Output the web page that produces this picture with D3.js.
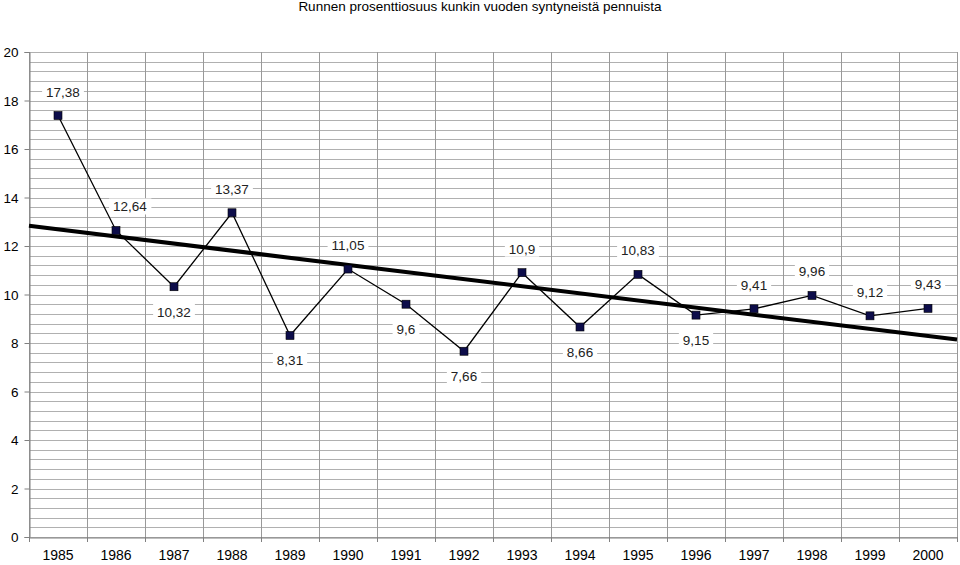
<!DOCTYPE html>
<html><head><meta charset="utf-8">
<script src="https://cdn.jsdelivr.net/npm/d3@7"></script>
<style>body{margin:0;background:#fff}svg{display:block}svg text{font-family:"Liberation Sans",Arial,sans-serif}</style>
</head><body><svg id="c" width="960" height="565"></svg>
<script>
const title = "Runnen prosenttiosuus kunkin vuoden syntyneistä pennuista";
const years = ["1985","1986","1987","1988","1989","1990","1991","1992","1993","1994","1995","1996","1997","1998","1999","2000"];
const values = [17.38,12.64,10.32,13.37,8.31,11.05,9.6,7.66,10.9,8.66,10.83,9.15,9.41,9.96,9.12,9.43];
const valueLabels = ["17,38","12,64","10,32","13,37","8,31","11,05","9,6","7,66","10,9","8,66","10,83","9,15","9,41","9,96","9,12","9,43"];
const labelSide = ["above","above","below","above","below","above","below","below","above","below","above","below","above","above","above","above"];
const yTicks = [0,2,4,6,8,10,12,14,16,18,20];

const svg = d3.select("#c");
const L=29,R=957,T=52,B=537;
const x = d3.scaleBand().domain(years).range([L,R]).padding(0);
const y = d3.scaleLinear().domain([0,20]).range([B,T]);
const cx = d => x(d)+x.bandwidth()/2;

svg.append("text").attr("x",480).attr("y",11).attr("text-anchor","middle")
  .style("font-size","13.5px").attr("fill","#000").text(title);

// horizontal gridlines every 0.4
const minor = d3.range(0,20.001,0.4);
svg.append("g").selectAll("line").data(minor).join("line")
  .attr("x1",L).attr("x2",R).attr("y1",d=>Math.round(y(d))+0.5).attr("y2",d=>Math.round(y(d))+0.5)
  .attr("stroke","#b0b0b0").attr("stroke-width",1);
// vertical gridlines at category boundaries
const bounds = years.map(d=>x(d)).concat([R]);
svg.append("g").selectAll("line").data(bounds).join("line")
  .attr("x1",d=>Math.round(d)+0.5).attr("x2",d=>Math.round(d)+0.5).attr("y1",T).attr("y2",B)
  .attr("stroke","#999").attr("stroke-width",1);

// axes
const yAxis = d3.axisLeft(y).tickValues(yTicks).tickSize(5).tickPadding(6).tickFormat(d3.format("d"));
const gy = svg.append("g").attr("transform",`translate(${L+0.5},0)`).call(yAxis);
gy.select(".domain").attr("stroke","#808080");
gy.selectAll(".tick line").attr("stroke","#808080");
gy.selectAll("text").style("font-size","13.5px").attr("fill","#000").attr("dy","0.36em");

const xAxis = d3.axisBottom(x).tickSize(0).tickPadding(13);
const gx = svg.append("g").attr("transform",`translate(0,${B+0.5})`).call(xAxis);
gx.select(".domain").attr("stroke","#808080");
gx.selectAll("text").style("font-size","14px").attr("fill","#000");
svg.append("g").selectAll("line").data(bounds).join("line")
  .attr("x1",d=>Math.round(d)+0.5).attr("x2",d=>Math.round(d)+0.5).attr("y1",B).attr("y2",B+5)
  .attr("stroke","#808080");

// trend line (least squares)
const n = values.length;
const xs = d3.range(1,n+1);
const mx = d3.mean(xs), my = d3.mean(values);
const slope = d3.sum(xs.map((xi,i)=>(xi-mx)*(values[i]-my))) / d3.sum(xs.map(xi=>(xi-mx)*(xi-mx)));
const icpt = my - slope*mx;
const xi2px = d3.scaleLinear().domain([0.5,n+0.5]).range([L,R]);
svg.append("line")
  .attr("x1",xi2px(0.5)).attr("y1",y(icpt+slope*0.5))
  .attr("x2",xi2px(n+0.5)).attr("y2",y(icpt+slope*(n+0.5)))
  .attr("stroke","#000").attr("stroke-width",4);

// data line
const line = d3.line().x((d,i)=>cx(years[i])).y(d=>y(d));
svg.append("path").datum(values).attr("d",line).attr("fill","none").attr("stroke","#000").attr("stroke-width",1.3);

// markers
svg.append("g").selectAll("rect").data(values).join("rect")
  .attr("x",(d,i)=>cx(years[i])-4).attr("y",d=>y(d)-4).attr("width",8).attr("height",8)
  .attr("fill","#0d0d4a").attr("stroke","#000").attr("stroke-width",0.6);

// labels
const lg = svg.append("g");
values.forEach((v,i)=>{
  const px = cx(years[i]) + (i===1?14:(i===0?5:0));
  const py = y(v) + (labelSide[i]==="above" ? -24 : 25);
  const g = lg.append("g");
  const t = g.append("text").attr("x",px).attr("y",py+5).attr("text-anchor","middle")
    .style("font-size","13.5px").attr("fill","#222").text(valueLabels[i]);
  const bb = t.node().getBBox();
  g.insert("rect","text").attr("x",bb.x-4).attr("y",py-8).attr("width",bb.width+8).attr("height",16).attr("fill","#fff");
});
</script></body></html>
